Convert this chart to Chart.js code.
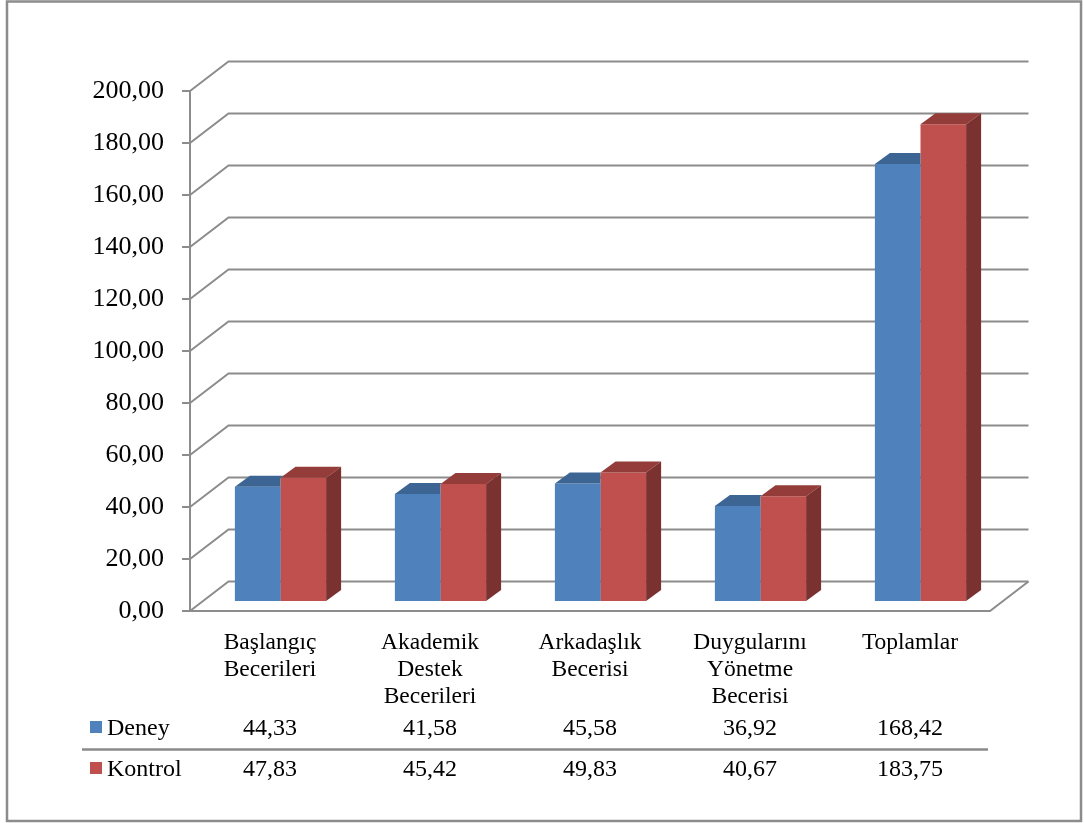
<!DOCTYPE html>
<html>
<head>
<meta charset="utf-8">
<script src="https://cdn.jsdelivr.net/npm/chart.js@4/dist/chart.umd.min.js"></script>
<style>
  html, body { margin: 0; padding: 0; background: #ffffff; }
  #c { display: block; }
</style>
</head>
<body>
<canvas id="c" width="1084" height="823"></canvas>
<script>
// ---- data ----
const categories = [
  ["Başlangıç", "Becerileri"],
  ["Akademik", "Destek", "Becerileri"],
  ["Arkadaşlık", "Becerisi"],
  ["Duygularını", "Yönetme", "Becerisi"],
  ["Toplamlar"]
];
const seriesNames = ["Deney", "Kontrol"];
const deneyValues = [44.33, 41.58, 45.58, 36.92, 168.42];
const kontrolValues = [47.83, 45.42, 49.83, 40.67, 183.75];
const yTickValues = [0, 20, 40, 60, 80, 100, 120, 140, 160, 180, 200];

// ---- styling ----
const FONT = "'Liberation Serif', 'Times New Roman', serif";
const GRID = '#8c8c8c';
const colors = {
  front: ['#4F81BD', '#C0504D'],
  top:   ['#3D6593', '#943C39'],
  side:  ['#36587F', '#7A3130']
};
const DEPTH_DX = 38.5, DEPTH_DY = -29.5;  // floor depth
const BAR_DX = 10.5, BAR_DY = -9;         // bar front plane offset
const BAR_SDX = 15, BAR_SDY = -11;        // bar depth

const fmt = v => v.toFixed(2).replace('.', ',');

function barBox(el) {
  const p = el.getProps(['x', 'y', 'base', 'width'], true);
  return { l: p.x - p.width / 2, r: p.x + p.width / 2, t: p.y, b: p.base };
}

const plugin3d = {
  id: 'plugin3d',
  beforeDatasetsDraw(chart) {
    const ctx = chart.ctx;
    const ys = chart.scales.y;
    const a = chart.chartArea;
    ctx.save();
    ctx.strokeStyle = GRID;
    ctx.lineWidth = 2;
    ctx.lineCap = 'butt';
    yTickValues.forEach(v => {
      const y = ys.getPixelForValue(v);
      ctx.beginPath();
      ctx.moveTo(a.left, y);
      ctx.lineTo(a.left + DEPTH_DX, y + DEPTH_DY);
      ctx.lineTo(a.right + DEPTH_DX, y + DEPTH_DY);
      ctx.stroke();
    });
    const y0 = ys.getPixelForValue(0);
    ctx.beginPath();
    ctx.moveTo(a.left, y0);
    ctx.lineTo(a.right, y0);
    ctx.lineTo(a.right + DEPTH_DX, y0 + DEPTH_DY);
    ctx.stroke();
    ctx.restore();
    // shift into the bar plane
    ctx.save();
    ctx.translate(BAR_DX, BAR_DY);
  },
  afterDatasetDraw(chart, args) {
    const ctx = chart.ctx;
    const i = args.index;
    const others = chart.getDatasetMeta(1 - i).data;
    args.meta.data.forEach((el, k) => {
      const q = barBox(el);
      ctx.save();
      if (i === 0 && others[k]) {
        // keep the first series' faces behind the second series' bar
        const o = barBox(others[k]);
        ctx.beginPath();
        ctx.rect(-100, -100, 1300, 1100);
        ctx.moveTo(o.l, o.b);
        ctx.lineTo(o.l, o.t);
        ctx.lineTo(o.l + BAR_SDX, o.t + BAR_SDY);
        ctx.lineTo(o.r + BAR_SDX, o.t + BAR_SDY);
        ctx.lineTo(o.r + BAR_SDX, o.b + BAR_SDY);
        ctx.lineTo(o.r, o.b);
        ctx.closePath();
        ctx.clip('evenodd');
      }
      ctx.fillStyle = colors.top[i];
      ctx.beginPath();
      ctx.moveTo(q.l, q.t); ctx.lineTo(q.r, q.t);
      ctx.lineTo(q.r + BAR_SDX, q.t + BAR_SDY); ctx.lineTo(q.l + BAR_SDX, q.t + BAR_SDY);
      ctx.closePath(); ctx.fill();
      ctx.fillStyle = colors.side[i];
      ctx.beginPath();
      ctx.moveTo(q.r, q.t); ctx.lineTo(q.r + BAR_SDX, q.t + BAR_SDY);
      ctx.lineTo(q.r + BAR_SDX, q.b + BAR_SDY); ctx.lineTo(q.r, q.b);
      ctx.closePath(); ctx.fill();
      ctx.restore();
    });
  },
  afterDatasetsDraw(chart) {
    chart.ctx.restore();
  },
  afterDraw(chart) {
    const ctx = chart.ctx;
    const xs = chart.scales.x;
    const rowsY = [729, 770];
    const rows = [deneyValues, kontrolValues];
    ctx.save();
    ctx.strokeStyle = '#8a8a8a';
    ctx.lineWidth = 2.5;
    ctx.beginPath();
    ctx.moveTo(82, 749.5); ctx.lineTo(988, 749.5);
    ctx.stroke();
    ctx.font = '24px ' + FONT;
    ctx.textBaseline = 'middle';
    rows.forEach((vals, r) => {
      ctx.fillStyle = colors.front[r];
      ctx.fillRect(90, rowsY[r] - 8, 12, 12);
      ctx.fillStyle = '#000';
      ctx.textAlign = 'left';
      ctx.fillText(seriesNames[r], 107, rowsY[r]);
      ctx.textAlign = 'center';
      vals.forEach((v, k) => {
        ctx.fillText(fmt(v), xs.getPixelForValue(k), rowsY[r]);
      });
    });
    ctx.strokeStyle = '#8c8c8c';
    ctx.lineWidth = 2.5;
    ctx.strokeRect(7, 1.5, 1074, 819.5);
    ctx.restore();
  }
};

new Chart(document.getElementById('c'), {
  type: 'bar',
  data: {
    labels: categories,
    datasets: [
      { label: seriesNames[0], data: deneyValues, backgroundColor: colors.front[0], borderWidth: 0 },
      { label: seriesNames[1], data: kontrolValues, backgroundColor: colors.front[1], borderWidth: 0 }
    ]
  },
  options: {
    responsive: false,
    animation: false,
    devicePixelRatio: 1,
    layout: { padding: { top: 91, right: 94, left: 0, bottom: 0 } },
    datasets: { bar: { categoryPercentage: 0.57, barPercentage: 1 } },
    plugins: { legend: { display: false }, tooltip: { enabled: false } },
    scales: {
      x: {
        grid: { display: false, drawTicks: false },
        border: { display: false },
        ticks: {
          maxRotation: 0, minRotation: 0, autoSkip: false,
          padding: 18,
          color: '#000',
          font: { family: FONT, size: 23.5, lineHeight: 1.15 }
        },
        afterFit(s) { s.height = 212; }
      },
      y: {
        min: 0, max: 200,
        afterBuildTicks(s) { s.ticks = yTickValues.map(v => ({ value: v })); },
        grid: { drawOnChartArea: false, drawTicks: true, tickLength: 8, color: GRID, lineWidth: 2 },
        border: { display: true, color: GRID, width: 2 },
        ticks: {
          padding: 18,
          color: '#000',
          font: { family: FONT, size: 26 },
          callback: v => fmt(v)
        },
        afterFit(s) { s.width = 190; }
      }
    }
  },
  plugins: [plugin3d]
});
</script>
</body>
</html>
